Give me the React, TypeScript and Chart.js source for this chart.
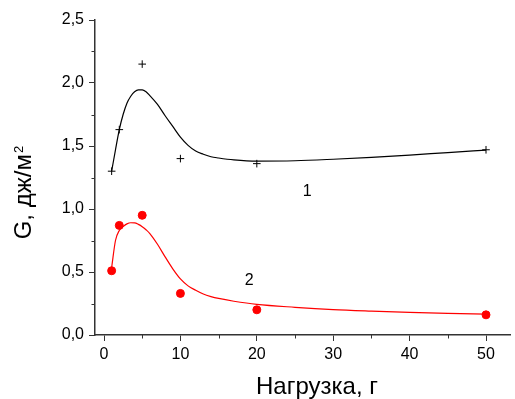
import { useEffect, useRef } from 'react';
import { Chart, registerables } from 'chart.js';

Chart.register(...registerables);

// Measured points
const loadX = [1, 2, 5, 10, 20, 50];
const series1 = [1.30, 1.63, 2.15, 1.40, 1.36, 1.47];
const series2 = [0.51, 0.87, 0.95, 0.33, 0.20, 0.16];

// Fitted curves
const curveX = [1, 1.5, 2, 2.5, 3, 3.5, 4, 4.5, 5, 5.5, 6, 7, 8, 9, 10, 11, 12, 13, 14, 15, 17, 20, 25, 30, 35, 40, 45, 50];
const curve1 = [1.30, 1.47, 1.63, 1.75, 1.84, 1.895, 1.93, 1.945, 1.945, 1.93, 1.90, 1.83, 1.74, 1.655, 1.57, 1.505, 1.46, 1.435, 1.415, 1.405, 1.39, 1.38, 1.383, 1.395, 1.41, 1.428, 1.448, 1.467];
const curve2 = [0.535, 0.75, 0.83, 0.86, 0.882, 0.891, 0.89, 0.878, 0.86, 0.835, 0.805, 0.72, 0.62, 0.525, 0.445, 0.39, 0.355, 0.325, 0.305, 0.29, 0.268, 0.243, 0.22, 0.202, 0.19, 0.18, 0.172, 0.165];

// Axes
const xMajorTicks = [0, 10, 20, 30, 40, 50];
const xMinorTicks = [5, 15, 25, 35, 45];
const yMajorTicks = [0, 0.5, 1.0, 1.5, 2.0, 2.5];
const yMinorTicks = [0.25, 0.75, 1.25, 1.75, 2.25];

// Curve labels (data coordinates)
const curveLabels = ['1', '2'];
const curveLabelX = [26.6, 19.0];
const curveLabelY = [1.14, 0.435];

const xTitle = 'Нагрузка, г';
const yTitleMain = 'G, дж/м';
const yTitleSup = '2';

const FONT = '"Liberation Sans", Arial, Helvetica, sans-serif';
const AXIS = '#333333';

const toPts = (xs: number[], ys: number[]) => xs.map((x, i) => ({ x, y: ys[i] }));

const decorPlugin = {
  id: 'decor',
  afterDraw(chart: any) {
    const { ctx, chartArea, scales } = chart;
    const xs = scales.x;
    const ys = scales.y;
    ctx.save();
    ctx.strokeStyle = AXIS;
    ctx.lineWidth = 1;
    xMinorTicks.forEach((v) => {
      const px = Math.round(xs.getPixelForValue(v)) + 0.5;
      ctx.beginPath();
      ctx.moveTo(px, chartArea.bottom);
      ctx.lineTo(px, chartArea.bottom + 3.5);
      ctx.stroke();
    });
    yMinorTicks.forEach((v) => {
      const py = Math.round(ys.getPixelForValue(v)) + 0.5;
      ctx.beginPath();
      ctx.moveTo(chartArea.left, py);
      ctx.lineTo(chartArea.left - 3.5, py);
      ctx.stroke();
    });

    ctx.fillStyle = '#000';
    ctx.textAlign = 'center';
    ctx.textBaseline = 'middle';
    ctx.font = `16px ${FONT}`;
    curveLabels.forEach((t, i) => {
      ctx.fillText(t, xs.getPixelForValue(curveLabelX[i]), ys.getPixelForValue(curveLabelY[i]));
    });

    // x title
    ctx.font = `24px ${FONT}`;
    ctx.fillText(xTitle, 317, chart.height - 12);

    // y title (rotated, with superscript)
    const cy = chartArea.top + (chartArea.bottom - chartArea.top) * 0.548;
    const cx = 24.5;
    ctx.font = `24px ${FONT}`;
    const w1 = ctx.measureText(yTitleMain).width;
    ctx.font = `13px ${FONT}`;
    const w2 = ctx.measureText(yTitleSup).width;
    const total = w1 + 1 + w2;
    ctx.translate(cx, cy);
    ctx.rotate(-Math.PI / 2);
    ctx.textAlign = 'left';
    ctx.font = `24px ${FONT}`;
    ctx.fillText(yTitleMain, -total / 2, 0);
    ctx.font = `13px ${FONT}`;
    ctx.fillText(yTitleSup, -total / 2 + w1 + 1, -5);
    ctx.restore();
  },
};

export default function App() {
  const ref = useRef<HTMLCanvasElement | null>(null);
  useEffect(() => {
    document.body.style.margin = '0';
    const canvas = ref.current;
    if (!canvas) return;
    const chart = new Chart(canvas, {
      type: 'scatter',
      data: {
        datasets: [
          {
            label: 'pts1',
            data: toPts(loadX, series1),
            pointStyle: 'cross',
            pointRadius: 3.8,
            borderColor: '#000',
            borderWidth: 1,
            showLine: false,
          },
          {
            label: 'pts2',
            data: toPts(loadX, series2),
            pointStyle: 'circle',
            pointRadius: 4,
            backgroundColor: '#ff0000',
            borderColor: '#ff0000',
            borderWidth: 1,
            showLine: false,
          },
          {
            label: 'curve1',
            data: toPts(curveX, curve1),
            showLine: true,
            pointRadius: 0,
            borderColor: '#000',
            borderWidth: 1.2,
            cubicInterpolationMode: 'monotone',
          },
          {
            label: 'curve2',
            data: toPts(curveX, curve2),
            showLine: true,
            pointRadius: 0,
            borderColor: '#ff0000',
            borderWidth: 1.2,
            cubicInterpolationMode: 'monotone',
          },
        ],
      } as any,
      options: {
        animation: false,
        responsive: false,
        layout: { padding: { top: 20, right: 0, left: 0, bottom: 0 } },
        plugins: { legend: { display: false }, tooltip: { enabled: false } },
        scales: {
          x: {
            type: 'linear',
            position: 'bottom',
            min: -1.18,
            max: 53.14,
            afterBuildTicks: (s: any) => {
              s.ticks = xMajorTicks.map((v) => ({ value: v }));
            },
            afterFit: (s: any) => {
              s.height = 64;
              s.paddingLeft = 0;
              s.paddingRight = 0;
            },
            grid: { drawOnChartArea: false, drawTicks: true, tickLength: 6, color: AXIS, lineWidth: 1 },
            border: { display: true, color: AXIS, width: 1.5 },
            ticks: {
              padding: 4,
              color: '#000',
              font: { family: FONT, size: 16 },
              maxRotation: 0,
              callback: (v: any) => String(v),
            },
          },
          y: {
            type: 'linear',
            position: 'left',
            min: 0,
            max: 2.5,
            afterBuildTicks: (s: any) => {
              s.ticks = yMajorTicks.map((v) => ({ value: v }));
            },
            afterFit: (s: any) => {
              s.width = 95;
            },
            grid: { drawOnChartArea: false, drawTicks: true, tickLength: 6, color: AXIS, lineWidth: 1 },
            border: { display: true, color: AXIS, width: 1.5 },
            ticks: {
              padding: 5,
              color: '#000',
              font: { family: FONT, size: 16 },
              callback: (v: any) => Number(v).toFixed(1).replace('.', ','),
            },
          },
        },
      },
      plugins: [decorPlugin],
    });
    return () => chart.destroy();
  }, []);
  return <canvas ref={ref} width={515} height={399} style={{ display: 'block', width: 515, height: 399 }} />;
}
